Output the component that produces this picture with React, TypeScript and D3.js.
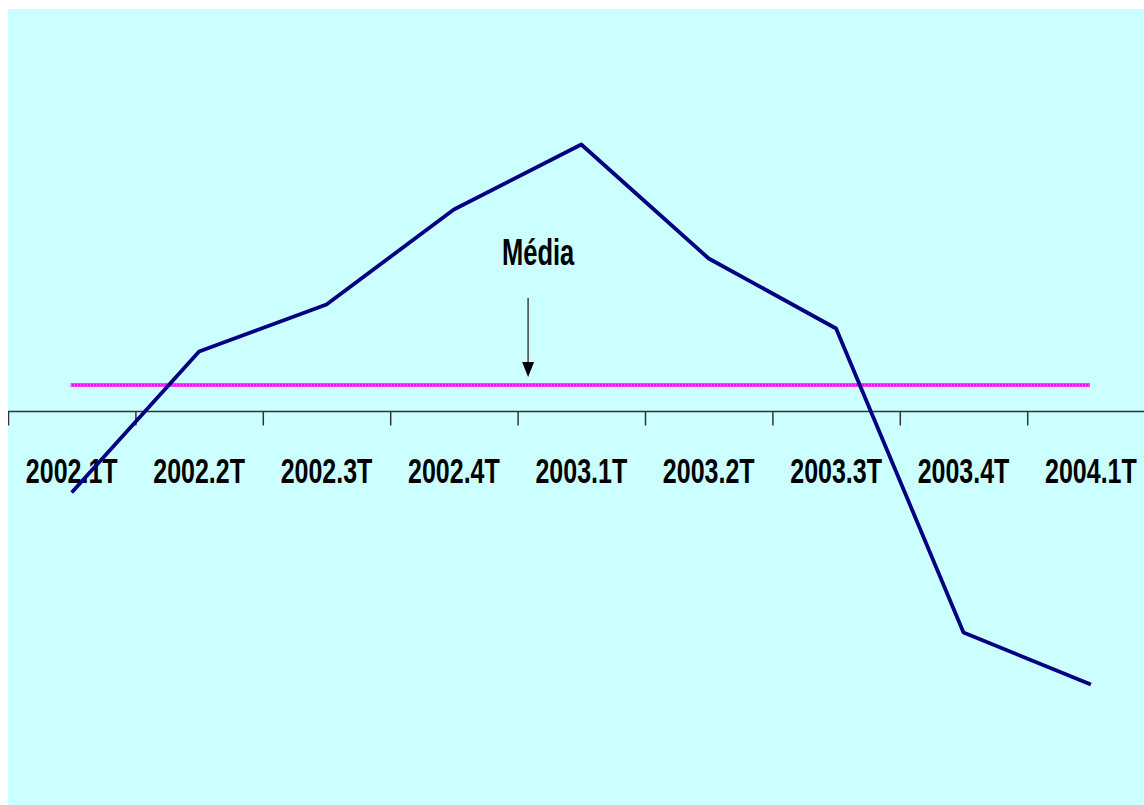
import { useEffect, useRef } from "react";
import * as d3 from "d3";

// quarters on the x axis
const quarters = [
  "2002.1T",
  "2002.2T",
  "2002.3T",
  "2002.4T",
  "2003.1T",
  "2003.2T",
  "2003.3T",
  "2003.4T",
  "2004.1T",
];

// series values (arbitrary units, axis at 0)
const values = [-0.81, 0.6, 1.07, 2.02, 2.67, 1.53, 0.83, -2.21, -2.73];

// the "Média" reference line
const mean = 0.265;
const meanLabel = "Média";

const App = () => {
  const svgRef = useRef<SVGSVGElement>(null);

  const width = 1136;
  const height = 797;

  useEffect(() => {
    const svg = d3.select(svgRef.current);
    svg.selectAll("*").remove();

    // background
    svg
      .append("rect")
      .attr("x", 0)
      .attr("y", 1)
      .attr("width", width)
      .attr("height", height - 1)
      .attr("fill", "#CCFFFF");

    // setup scaling
    const band = 127.4;
    const xScale = d3
      .scaleBand()
      .domain(quarters)
      .range([0, band * quarters.length])
      .padding(0);
    const cx = (q: string) => (xScale(q) as number) + xScale.bandwidth() / 2;

    const yScale = d3.scaleLinear().domain([-4, 4]).range([803.5, 3.5]);
    const y0 = yScale(0);

    // mean line (magenta, hollow dotted look)
    const mx1 = cx(quarters[0]) - 1;
    const mx2 = cx(quarters[quarters.length - 1]) - 1;
    svg
      .append("line")
      .attr("x1", mx1)
      .attr("x2", mx2)
      .attr("y1", yScale(mean))
      .attr("y2", yScale(mean))
      .attr("stroke", "#FF00FF")
      .attr("stroke-width", 3.5);
    svg
      .append("line")
      .attr("x1", mx1)
      .attr("x2", mx2)
      .attr("y1", yScale(mean))
      .attr("y2", yScale(mean))
      .attr("stroke", "#FFB0FF")
      .attr("stroke-width", 1)
      .attr("stroke-dasharray", "1.2,2");

    // x axis
    const axis = svg.append("g");
    axis
      .append("line")
      .attr("x1", 0)
      .attr("x2", width)
      .attr("y1", y0)
      .attr("y2", y0)
      .attr("stroke", "#333333")
      .attr("stroke-width", 1.5);
    axis
      .selectAll("line.tick")
      .data(quarters)
      .enter()
      .append("line")
      .attr("class", "tick")
      .attr("x1", (d) => (xScale(d) as number) + 0.5)
      .attr("x2", (d) => (xScale(d) as number) + 0.5)
      .attr("y1", y0)
      .attr("y2", y0 + 14)
      .attr("stroke", "#333333")
      .attr("stroke-width", 1.5);

    const font = "'Liberation Sans', Arial, sans-serif";

    axis
      .selectAll("text")
      .data(quarters)
      .enter()
      .append("text")
      .attr("transform", (d) => `translate(${cx(d)}, ${y0 + 71}) scale(1, 1.42)`)
      .attr("text-anchor", "middle")
      .attr("font-family", font)
      .attr("font-weight", "bold")
      .attr("font-size", 25)
      .attr("fill", "#000000")
      .text((d) => d);

    // series line
    const line = d3
      .line<number>()
      .x((_, i) => cx(quarters[i]))
      .y((d) => yScale(d));

    svg
      .append("path")
      .datum(values)
      .attr("d", line)
      .attr("fill", "none")
      .attr("stroke", "#000080")
      .attr("stroke-width", 3.8)
      .attr("stroke-linejoin", "round");

    // "Média" annotation with arrow
    const ax = (xScale("2003.1T") as number) + 10.5;
    const tipY = yScale(mean) - 8;
    svg
      .append("text")
      .attr("transform", `translate(${ax + 10}, ${tipY - 112}) scale(1, 1.42)`)
      .attr("text-anchor", "middle")
      .attr("font-family", font)
      .attr("font-weight", "bold")
      .attr("font-size", 25.5)
      .attr("fill", "#000000")
      .text(meanLabel);
    svg
      .append("line")
      .attr("x1", ax)
      .attr("x2", ax)
      .attr("y1", tipY - 79)
      .attr("y2", tipY - 12)
      .attr("stroke", "#404040")
      .attr("stroke-width", 1.5);
    svg
      .append("path")
      .attr("d", `M${ax - 6},${tipY - 15} L${ax + 6},${tipY - 15} L${ax},${tipY} Z`)
      .attr("fill", "#000000");
  }, []);

  return (
    <svg
      ref={svgRef}
      width={width}
      height={height}
      style={{ position: "absolute", left: 8, top: 8, display: "block" }}
    />
  );
};

export default App;
